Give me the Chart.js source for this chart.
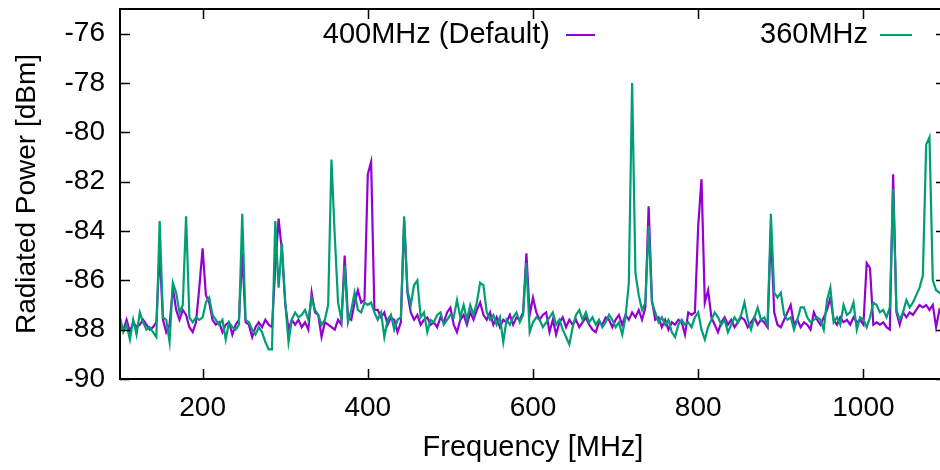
<!DOCTYPE html>
<html>
<head>
<meta charset="utf-8">
<script src="https://cdn.jsdelivr.net/npm/chart.js@4/dist/chart.umd.min.js"></script>
<style>
  html, body { margin: 0; padding: 0; background: #fff; overflow: hidden; }
  #wrap { position: absolute; left: 0; top: 0; width: 950px; height: 470px; }
</style>
</head>
<body>
<div id="wrap"><canvas id="chart" width="950" height="470"></canvas></div>
<script>
// Frequency grid: 100 MHz to 1096 MHz, one sample every 4 MHz
const freqStart = 100;
const freqStep = 4;

// 400MHz (Default) - radiated power in dBm
const power400 = [
  -87.8, -88.0, -87.6, -88.1, -87.7, -87.9, -87.8, -87.6, -87.8, -88.0,
  -87.9, -87.7, -84.8, -87.6, -88.1, -87.8, -86.3, -87.2, -87.6, -87.2,
  -87.4, -87.9, -88.1, -87.7, -86.3, -84.7, -86.6, -86.9, -87.6, -87.8,
  -87.7, -88.1, -87.8, -87.7, -88.2, -87.8, -87.6, -84.9, -87.7, -87.8,
  -88.3, -87.9, -87.7, -87.9, -87.6, -87.8, -87.9, -85.5, -83.5, -84.8,
  -86.9, -88.0, -87.6, -87.8, -87.6, -87.9, -87.7, -88.0, -86.5, -87.3,
  -87.4, -88.3, -87.7, -87.8, -87.9, -88.0, -87.6, -87.8, -85.0, -87.5,
  -87.6, -86.9, -86.4, -86.9, -86.8, -81.7, -81.2, -87.2, -87.2, -87.5,
  -87.3, -87.8, -87.5, -87.6, -88.1, -87.7, -83.6, -86.5, -87.3, -87.6,
  -87.4, -87.8, -87.6, -87.5, -87.8, -87.7, -87.9, -87.5, -87.7, -87.3,
  -87.1, -87.8, -88.1, -87.6, -87.4, -87.8, -87.3, -87.6, -87.2, -86.9,
  -87.4, -87.6, -87.3, -87.8, -87.5, -87.9, -87.6, -87.7, -87.4, -87.8,
  -87.5, -87.6, -87.3, -84.9, -87.4, -86.7, -87.3, -87.6, -87.4, -87.3,
  -88.1, -87.6, -88.2, -87.7, -87.5, -87.9, -87.6, -87.8, -87.6, -87.9,
  -87.7, -87.5, -87.8, -88.0, -88.1, -87.7, -87.8, -87.5, -87.6, -87.9,
  -87.6, -87.4, -87.8, -87.4, -87.6, -87.3, -87.5, -87.2, -87.6, -87.1,
  -83.0, -86.8, -87.6, -87.5, -87.9, -87.6, -88.0, -87.7, -87.8, -87.6,
  -87.7, -88.2, -87.3, -87.4, -87.3, -83.8, -81.9, -86.9, -86.4, -87.5,
  -87.8, -88.1, -87.7, -87.5, -87.8, -87.6, -87.9, -87.7, -87.5, -87.6,
  -87.9, -87.7, -87.5, -87.8, -87.6, -87.7, -87.9, -84.0, -87.3, -87.8,
  -87.9, -87.6, -87.3, -87.0, -87.8, -87.6, -87.9, -87.7, -87.8, -88.0,
  -87.3, -87.6, -87.8, -87.5, -87.2, -86.7, -87.6, -87.8, -87.5, -87.7,
  -87.6, -87.8, -87.5, -87.7, -87.6, -87.8, -85.3, -85.5, -87.8, -87.7,
  -87.8, -87.7, -87.9, -88.0, -81.7, -87.3, -87.8, -87.3, -87.5, -87.3,
  -87.4, -87.2, -87.0, -87.1, -87.0, -87.2, -87.0, -87.9, -87.2, -87.4
];

// 360MHz - radiated power in dBm
const power360 = [
  -87.5, -88.1, -87.8, -88.4, -87.6, -88.2, -87.3, -87.7, -88.0, -87.9,
  -88.1, -88.3, -83.6, -87.5, -87.6, -88.5, -86.1, -86.5, -87.3, -87.0,
  -83.4, -87.5, -87.7, -87.5, -87.6, -87.5, -86.9, -86.7, -87.4, -87.6,
  -87.8, -87.6, -88.4, -87.7, -87.9, -88.0, -87.8, -83.3, -87.6, -87.7,
  -88.0, -88.2, -87.9, -88.1, -88.5, -88.8, -88.8, -83.6, -86.3, -84.5,
  -86.9, -88.5, -87.6, -87.3, -87.5, -87.4, -87.2, -87.6, -86.7, -87.2,
  -87.4, -87.8, -87.6, -87.0, -81.1, -84.2, -86.9, -87.6, -85.4, -87.7,
  -87.2, -86.5, -87.2, -87.3, -86.9, -87.0, -86.9, -87.3, -87.6, -87.3,
  -88.3, -87.6, -87.4, -88.0, -87.6, -87.5, -83.4, -86.4, -87.0, -86.2,
  -86.0, -87.5, -87.3, -88.1, -87.6, -87.7, -87.4, -87.3, -87.8, -87.6,
  -87.4, -87.5, -86.8, -87.5, -87.0, -87.6, -87.0, -87.4, -86.9, -86.1,
  -86.2, -87.3, -87.6, -87.4, -87.8, -87.5, -88.5, -87.6, -87.8, -87.5,
  -87.3, -87.7, -87.4, -85.3, -88.1, -87.7, -87.5, -87.6, -87.9, -87.7,
  -87.5, -87.3, -87.8, -87.6, -88.0, -88.3, -88.6, -87.9, -87.4, -87.2,
  -87.6, -87.3, -87.7, -87.5, -87.8, -87.6, -87.9, -87.7, -87.4, -87.6,
  -87.9, -87.7, -88.2, -87.5, -86.1, -78.0, -85.7, -86.6, -87.2, -86.9,
  -83.8, -86.9, -87.3, -87.7, -87.5, -87.8, -87.6, -88.1, -88.3, -87.8,
  -87.6, -87.8, -87.7, -87.9, -87.5, -87.3, -88.0, -88.4, -87.9, -87.6,
  -87.3, -87.5, -87.8, -87.6, -88.1, -87.8, -87.5, -87.7, -87.4, -86.9,
  -87.6, -88.0, -87.5, -87.1, -87.6, -87.5, -87.8, -83.3, -86.5, -86.7,
  -86.5, -87.4, -87.6, -87.5, -88.0, -87.6, -87.1, -87.1, -87.5, -87.7,
  -87.6, -87.5, -87.6, -88.0, -86.8, -86.3, -87.7, -87.5, -87.8, -87.0,
  -87.4, -87.3, -86.9, -88.0, -87.5, -87.6, -87.9, -87.5, -86.9, -87.0,
  -87.3, -87.2, -87.5, -87.1, -82.3, -87.2, -87.6, -87.3, -86.8, -87.1,
  -86.9, -86.6, -86.3, -85.8, -80.5, -80.2, -86.0, -86.4, -86.5, -86.6
];

const seriesLabels = ['400MHz (Default)', '360MHz'];
const seriesColors = ['#9400d3', '#009e73'];

const xTicks = [200, 400, 600, 800, 1000];
const yTicks = [-90, -88, -86, -84, -82, -80, -78, -76];

const FONT = '"Liberation Sans", Arial, Helvetica, sans-serif';

function toPoints(values) {
  return values.map((v, i) => ({ x: freqStart + freqStep * i, y: v }));
}

// gnuplot-like frame: full box with inward ticks on every side
const framePlugin = {
  id: 'frame',
  afterDraw(chart) {
    const { ctx, chartArea: a, scales } = chart;
    const len = 10;
    ctx.save();
    ctx.strokeStyle = '#000';
    ctx.lineWidth = 2;
    ctx.strokeRect(a.left, a.top, a.right - a.left, a.bottom - a.top);
    ctx.lineWidth = 1.5;
    ctx.beginPath();
    xTicks.forEach(v => {
      const px = Math.round(scales.x.getPixelForValue(v)) + 0.5;
      ctx.moveTo(px, a.bottom); ctx.lineTo(px, a.bottom - len);
      ctx.moveTo(px, a.top); ctx.lineTo(px, a.top + len);
    });
    yTicks.forEach(v => {
      const py = Math.round(scales.y.getPixelForValue(v)) + 0.5;
      ctx.moveTo(a.left, py); ctx.lineTo(a.left + len, py);
      ctx.moveTo(a.right, py); ctx.lineTo(a.right - len, py);
    });
    ctx.stroke();

    // key: text first, then line sample (gnuplot style)
    const keyY = 35;
    const keys = [
      { textRight: 550, x0: 566, x1: 595 },
      { textRight: 868, x0: 880, x1: 912 }
    ];
    ctx.font = '29px ' + FONT;
    ctx.fillStyle = '#000';
    ctx.textAlign = 'right';
    ctx.textBaseline = 'middle';
    keys.forEach((k, i) => {
      ctx.fillText(seriesLabels[i], k.textRight, keyY);
      ctx.strokeStyle = seriesColors[i];
      ctx.lineWidth = 2;
      ctx.beginPath();
      ctx.moveTo(k.x0, keyY);
      ctx.lineTo(k.x1, keyY);
      ctx.stroke();
    });
    ctx.restore();
  }
};

new Chart(document.getElementById('chart'), {
  type: 'line',
  data: {
    datasets: [
      {
        label: seriesLabels[1],
        data: toPoints(power360),
        borderColor: seriesColors[1],
        borderWidth: 2.2,
        pointRadius: 0,
        tension: 0,
        order: 0
      },
      {
        label: seriesLabels[0],
        data: toPoints(power400),
        borderColor: seriesColors[0],
        borderWidth: 2.2,
        pointRadius: 0,
        tension: 0,
        order: 1
      }
    ]
  },
  options: {
    responsive: false,
    animation: false,
    layout: { padding: { top: 9, right: 4, left: 0, bottom: 0 } },
    plugins: {
      legend: { display: false },
      tooltip: { enabled: false }
    },
    scales: {
      x: {
        type: 'linear',
        min: 100,
        max: 1100,
        afterBuildTicks: s => { s.ticks = xTicks.map(v => ({ value: v })); },
        afterFit: s => { s.height = 91; s.paddingLeft = 0; s.paddingRight = 0; },
        grid: { display: false, drawTicks: false },
        border: { display: false },
        ticks: {
          color: '#000',
          font: { family: FONT, size: 28 },
          padding: 12,
          maxRotation: 0,
          callback: v => String(v)
        },
        title: {
          display: true,
          text: 'Frequency [MHz]',
          color: '#000',
          font: { family: FONT, size: 29 },
          padding: { top: 0, bottom: 5 }
        }
      },
      y: {
        min: -90,
        max: -75,
        afterBuildTicks: s => { s.ticks = yTicks.map(v => ({ value: v })); },
        afterFit: s => { s.width = 120; s.paddingTop = 0; s.paddingBottom = 0; },
        grid: { display: false, drawTicks: false },
        border: { display: false },
        ticks: {
          color: '#000',
          font: { family: FONT, size: 28 },
          padding: 15,
          callback: v => String(v)
        },
        title: {
          display: true,
          text: 'Radiated Power [dBm]',
          color: '#000',
          font: { family: FONT, size: 28 },
          padding: { top: 10, bottom: 0 }
        }
      }
    }
  },
  plugins: [framePlugin]
});
</script>
</body>
</html>
